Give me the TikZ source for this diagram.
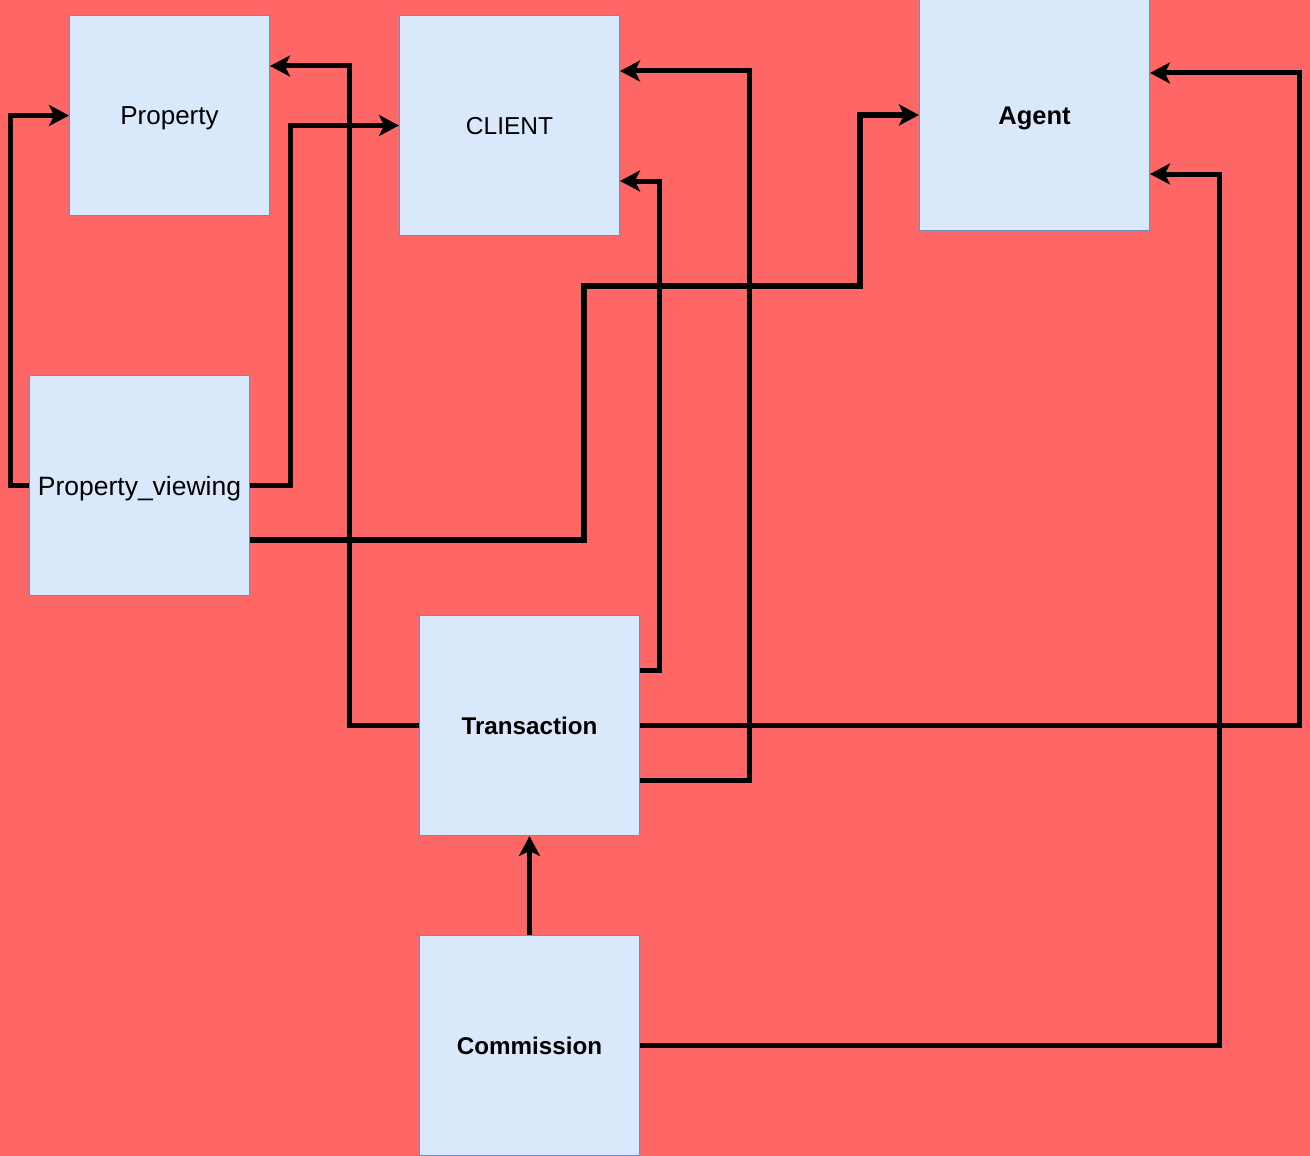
\documentclass[tikz,border=0pt]{standalone}
\usepackage{fontspec}
\setmainfont{Liberation Sans}
\usetikzlibrary{arrows.meta,calc}
\definecolor{bgred}{HTML}{FF6666}
\definecolor{boxfill}{HTML}{DAE8FC}
\definecolor{boxline}{HTML}{6C8EBF}
\newcommand{\fs}[1]{\fontsize{#1}{#1}\selectfont}
\begin{document}
\begin{tikzpicture}[x=1pt,y=-1pt,
  entity/.style={draw=boxline, fill=boxfill, line width=1pt, inner sep=0pt,
    minimum width=#1, minimum height=#1, text depth=0pt},
  entity/.default=220pt,
  conn/.style={line width=5pt, line join=miter,
    -{Stealth[length=20pt, width=21pt, inset=5pt]}}]
\useasboundingbox[fill=bgred] (0,0) rectangle (1310,1156);

\node[entity=200pt, font=\fs{26}, text height=18.6pt] (prop) at (169.5,115.5) {Property};
\node[entity, font=\fs{24.5}, text height=17.5pt] (client) at (509.5,125.5) {CLIENT};
\node[entity=230pt, font=\fs{25.5}\bfseries, text height=18.3pt] (agent) at (1034.5,115) {Agent};
\node[entity, font=\fs{26.5}, text height=19pt] (pv) at (139.5,485.5) {Property\_viewing};
\node[entity, font=\fs{24.2}\bfseries, text height=17.3pt] (tr) at (529.5,725.5) {Transaction};
\node[entity, font=\fs{24.2}\bfseries, text height=17.3pt] (cm) at (529.5,1045.5) {Commission};

% Property_viewing -> Property
\draw[conn] (pv.west) -| (10,115.5) -- (prop.west);
% Property_viewing -> CLIENT
\draw[conn] (pv.east) -| (290,125.5) -- (client.west);
% Property_viewing -> Agent
\draw[conn, line width=5.8pt] ($(pv.east)+(0,54.5)$) -| (584,286) -| (860,115) -- (agent.west);
% Transaction -> Property
\draw[conn] (tr.west) -| (349,66) -- ($(prop.east)+(0,-49.5)$);
% Transaction -> CLIENT (lower)
\draw[conn] ($(tr.east)+(0,-55.5)$) -| (659,181) -- ($(client.east)+(0,55.5)$);
% Transaction -> CLIENT (upper)
\draw[conn] ($(tr.east)+(0,54.5)$) -| (749,71) -- ($(client.east)+(0,-54.5)$);
% Transaction -> Agent
\draw[conn] (tr.east) -| (1299,73) -- ($(agent.east)+(0,-42)$);
% Commission -> Agent
\draw[conn] (cm.east) -| (1219,174) -- ($(agent.east)+(0,59)$);
% Commission -> Transaction
\draw[conn] (cm.north) -- (tr.south);
\end{tikzpicture}
\end{document}
